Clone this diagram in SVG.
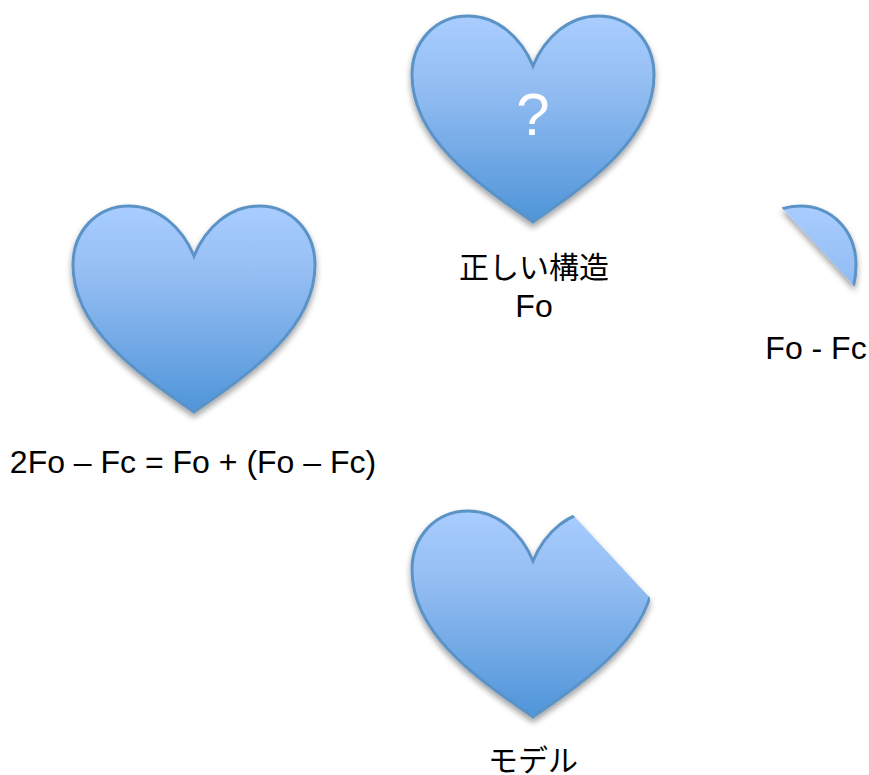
<svg xmlns="http://www.w3.org/2000/svg" xmlns:xlink="http://www.w3.org/1999/xlink" width="869" height="775" viewBox="0 0 869 775">
<style>
.h{fill:url(#g);stroke:#5B93C7;stroke-width:3;stroke-linejoin:miter}
.t{font-family:"Liberation Sans","Noto Sans CJK JP",sans-serif;font-size:32px;fill:#000;text-anchor:middle}
.j{font-family:"Noto Sans CJK JP","Liberation Sans",sans-serif;font-size:30px;fill:#000;text-anchor:middle}
</style>
<defs>
<linearGradient id="g" x1="0" y1="0" x2="0" y2="1">
<stop offset="0" stop-color="#A9CDFF"/><stop offset="0.35" stop-color="#93BDF2"/><stop offset="1" stop-color="#4F95D9"/>
</linearGradient>
<filter id="s" x="-10%" y="-10%" width="120%" height="125%">
<feGaussianBlur in="SourceAlpha" stdDeviation="3"/>
<feOffset dx="0" dy="4"/>
<feComponentTransfer><feFuncA type="linear" slope="0.38"/></feComponentTransfer>
<feMerge><feMergeNode/><feMergeNode in="SourceGraphic"/></feMerge>
</filter>
<path id="heart" class="h" d="M533 66C521 37 497 16 468 16C435 16 412 42 412 75C412 140 480 185 533 222C586 185 654 140 654 75C654 42 631 16 598 16C569 16 545 37 533 66Z"/>
<clipPath id="cutA"><polygon points="782,208 856,288 869,288 869,190 782,190"/></clipPath>
<clipPath id="cutB"><polygon points="573,515 650,598 650,730 400,730 400,500 573,500"/></clipPath>
</defs>
<g id="connectors"/>
<g id="heart-top" filter="url(#s)"><use href="#heart"/></g>
<text x="533" y="135" font-family="Liberation Sans" font-size="60" fill="#fff" text-anchor="middle">?</text>
<text class="j" x="534" y="278">正しい構造</text>
<text class="t" x="534" y="317">Fo</text>
<g id="heart-left" filter="url(#s)"><use href="#heart" transform="translate(-339 190)"/></g>
<text class="t" x="193" y="473">2Fo – Fc = Fo + (Fo – Fc)</text>
<g id="heart-fragment" filter="url(#s)"><g clip-path="url(#cutA)"><use href="#heart" transform="translate(202 190)"/></g></g>
<text class="t" x="816" y="359">Fo - Fc</text>
<g id="heart-model" filter="url(#s)"><g clip-path="url(#cutB)"><use href="#heart" transform="translate(0 495)"/></g></g>
<text class="j" x="533" y="771">モデル</text>
</svg>
